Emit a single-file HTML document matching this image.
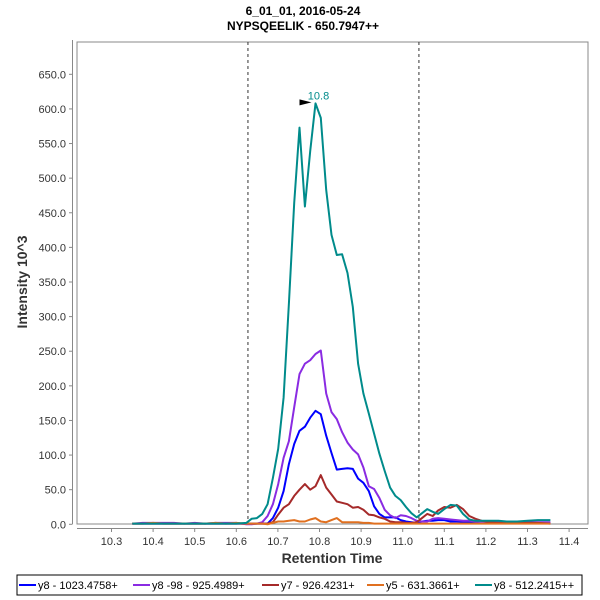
<!DOCTYPE html>
<html><head><meta charset="utf-8"><style>
body{margin:0;background:#fff;font-family:"Liberation Sans",sans-serif}
svg{display:block}
</style></head><body>
<svg id="c" width="600" height="600" xmlns="http://www.w3.org/2000/svg">
<text x="303" y="15" font-size="12" font-weight="bold" text-anchor="middle">6_01_01, 2016-05-24</text>
<text x="303" y="30" font-size="12" font-weight="bold" text-anchor="middle">NYPSQEELIK - 650.7947++</text>
<text transform="translate(27,282) rotate(-90)" font-size="14" font-weight="bold" fill="#333" text-anchor="middle">Intensity 10^3</text>
<text x="332" y="563" font-size="14" font-weight="bold" fill="#333" text-anchor="middle">Retention Time</text>
<rect x="77" y="42" width="511" height="482" fill="none" stroke="#888"/>
<g id="axes"></g>
<g id="series"></g>
<rect x="17" y="575" width="565" height="20" fill="none" stroke="#000"/>
<g id="legend"></g>
</svg>
<script>
const times=[10.35,10.375,10.4,10.425,10.45,10.475,10.5,10.525,10.55,10.575,10.6,
10.624,10.6368,10.6496,10.6624,10.6752,10.688,10.7008,10.7136,10.7264,10.7392,10.752,10.7648,10.7776,10.7904,10.8032,10.816,10.8288,10.8416,10.8544,10.8672,10.88,10.8928,10.9056,10.9184,10.9312,10.944,10.9568,10.9696,10.9824,10.9952,11.008,11.0208,11.0336,11.0464,11.0592,
11.072,11.085,11.1,11.115,11.13,11.145,11.16,11.175,11.19,11.21,11.23,11.25,11.275,11.3,11.325,11.355];
const blueVals=[1,1,1,1,1,1,1,1,1,1,1,
1,1,1,1,1,9,24,48,87,116,135,141,154,164,159,128,103,79,80,81,80,66,60,48,26,15,10,10,10,6,4,3,2,4,5,
5,6,6,4,4,3,3,3,4,3,3,3,3,3,2,2];
const purpleVals=[1,2,2,2,2,1,2,1,2,2,2,
0,0,1,3,12,29,58,96,120,169,217,232,237,246,251,189,162,152,133,118,108,101,82,55,51,38,21,13,9,13,12,9,5,4,4,
8,9,8,7,6,5,5,4,4,4,3,3,3,3,3,3];
const redVals=[1,1,1,1,1,1,1,1,1,1,1,
1,1,1,1,1,3,14,24,29,41,50,58,50,55,71,53,43,33,31,29,24,25,21,14,13,10,8,4,3,3,2,2,3,9,15,
12,20,25,24,28,22,12,8,5,3,2,2,2,2,2,1];
const orangeVals=[1,1,2,1,1,1,1,1,2,1,2,
1,1,1,1,0,2,4,4,5,6,4,4,7,9,4,3,6,9,3,3,3,3,2,2,1,1,1,1,1,1,1,1,1,1,1,
1,1,1,1,1,1,1,1,1,1,1,1,1,1,1,1];
const tealVals=[1,1,1,1,1,1,1,1,1,1,1,
2,8,9,15,29,67,109,183,319,464,573,459,539,608,587,483,418,389,390,363,314,232,189,160,131,102,77,53,41,35,25,16,10,16,22,
18,15,22,28,27,15,7,5,5,5,5,4,4,5,6,6];
const seriesNames=["y8 - 1023.4758+","y8 -98 - 925.4989+","y7 - 926.4231+","y5 - 631.3661+","y8 - 512.2415++"];
const xTicks=[10.3,10.4,10.5,10.6,10.7,10.8,10.9,11.0,11.1,11.2,11.3,11.4];
const yTicks=[0,50,100,150,200,250,300,350,400,450,500,550,600,650];
const boundaries=[10.628,11.039];
const apexTime=10.7904, apexVal=608;

const NS="http://www.w3.org/2000/svg";
const X=t=>111.5+(t-10.3)*416;
const Y=v=>524.3-v*0.6923;
function mk(tag,at,parent){const e=document.createElementNS(NS,tag);for(const k in at)e.setAttribute(k,at[k]);parent.appendChild(e);return e;}
const axes=document.getElementById('axes');
let l=mk('line',{x1:72.5,y1:40,x2:72.5,y2:524,stroke:'#888'},axes);


l=mk('line',{x1:77,y1:528.5,x2:588,y2:528.5,stroke:'#888'},axes);


yTicks.forEach(v=>{
  mk('line',{x1:69,y1:Y(v),x2:72.5,y2:Y(v),stroke:'#888'},axes);
  const t=mk('text',{x:66,y:Y(v)+4,'font-size':11,fill:'#333','text-anchor':'end'},axes);
  t.textContent=v.toFixed(1);
  
  
});
xTicks.forEach(v=>{
  mk('line',{x1:X(v),y1:528.5,x2:X(v),y2:532,stroke:'#888'},axes);
  const t=mk('text',{x:X(v),y:545,'font-size':11,fill:'#333','text-anchor':'middle'},axes);
  t.textContent=v.toFixed(1);
  
  
});
boundaries.forEach(b=>{
  const d=mk('line',{x1:X(b),y1:42,x2:X(b),y2:524,stroke:'#333','stroke-dasharray':'3,3','stroke-width':1},axes);
  
  
});
const colors=['#0000ff','#8a2be2','#a52a2a','#e07020','#008b8b'];
const vals=[blueVals,purpleVals,redVals,orangeVals,tealVals];
const sg=document.getElementById('series');
vals.forEach((arr,i)=>{
  const p=mk('polyline',{points:arr.map((v,j)=>X(times[j]).toFixed(1)+','+Y(v).toFixed(1)).join(' '),fill:'none',stroke:colors[i],'stroke-width':2,'stroke-linejoin':'round'},sg);
  
  
});
const ax=X(apexTime), ay=Y(apexVal);
const tri=mk('polygon',{points:`${ax-16},${ay-4} ${ax-4},${ay-1} ${ax-16},${ay+2}`,fill:'#000'},sg);


const at=mk('text',{x:ax+3,y:ay-4,'font-size':11,fill:'#008b8b','text-anchor':'middle'},sg);
at.textContent='10.8';


const lg=document.getElementById('legend');
const lx=[19,133,262,367,475];
seriesNames.forEach((n,i)=>{
  mk('line',{x1:lx[i],y1:585,x2:lx[i]+17,y2:585,stroke:colors[i],'stroke-width':2},lg);
  const t=mk('text',{x:lx[i]+19,y:589,'font-size':11,fill:'#000'},lg);
  t.textContent=n;
  
  
});
</script>
</body></html>
